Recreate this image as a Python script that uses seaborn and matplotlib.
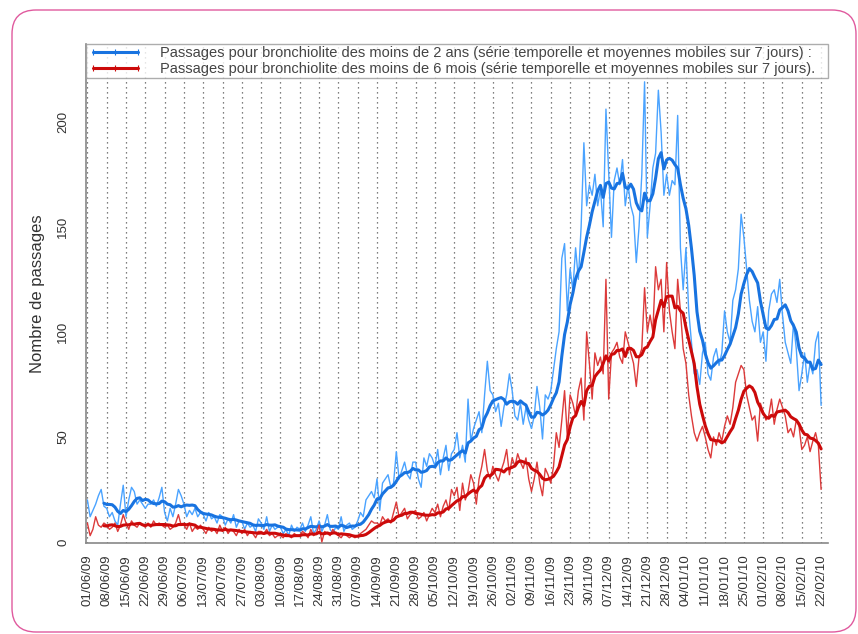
import numpy as np
import pandas as pd
import matplotlib
matplotlib.use("Agg")
import matplotlib.pyplot as plt
import seaborn as sns
from matplotlib.patches import FancyBboxPatch
from matplotlib.lines import Line2D

# ---------------- data (daily counts) ----------------
start_date = "2009-06-01"

moins_2_ans = [
    20, 12, 15, 18, 22, 25, 17,
    16, 12, 14, 10, 8, 18, 27,
    12, 20, 26, 24, 18, 20, 18,
    16, 18, 18, 20, 17, 21, 26,
    14, 10, 16, 12, 18, 25, 22,
    18, 12, 15, 13, 16, 12, 14,
    13, 10, 14, 11, 12, 9, 13,
    12, 8, 11, 9, 13, 7, 10,
    10, 6, 9, 7, 8, 5, 11,
    9, 6, 12, 5, 8, 6, 7,
    7, 4, 6, 3, 8, 5, 7,
    6, 9, 5, 8, 12, 4, 6,
    10, 5, 8, 13, 6, 4, 7,
    6, 12, 5, 8, 9, 6, 7,
    10, 14, 12, 20, 22, 24, 21,
    30, 15, 28, 30, 32, 26, 28,
    43, 30, 34, 38, 32, 30, 38,
    38, 30, 26, 40, 36, 42, 40,
    36, 44, 32, 40, 46, 34, 42,
    44, 52, 40, 46, 38, 68, 48,
    54, 58, 62, 52, 70, 86, 72,
    70, 62, 66, 55, 64, 70, 80,
    72, 60, 58, 66, 56, 64, 58,
    54, 60, 74, 64, 49, 70, 68,
    72, 82, 92, 100, 135, 142, 110,
    130, 120, 140, 125, 150, 190, 160,
    170, 165, 175, 160, 168, 150, 206,
    175, 145, 172, 178, 170, 182, 160,
    170, 160, 155, 133, 150, 175, 219,
    145, 160, 178, 185, 215, 195, 165,
    175, 165, 172, 170, 203, 140, 120,
    140, 110, 95, 80, 82, 75, 90,
    95, 80, 77, 88, 92, 84, 90,
    110, 100, 95, 115, 120, 130, 156,
    145, 130, 115, 105, 100, 112, 95,
    100, 86, 110, 118, 120, 114, 125,
    108, 95, 90, 85, 104, 92, 72,
    80, 90, 76, 85, 80, 95, 100,
    65,
]

moins_6_mois = [
    9, 3, 6, 12, 8, 7, 9,
    8, 6, 7, 9, 5, 8, 13,
    9, 6, 10, 8, 7, 9, 8,
    7, 9, 7, 10, 8, 9, 8,
    7, 8, 6, 7, 9, 13, 8,
    8, 6, 9, 5, 7, 6, 8,
    6, 4, 7, 5, 6, 4, 8,
    5, 7, 4, 6, 5, 3, 6,
    4, 6, 3, 5, 4, 2, 5,
    5, 4, 6, 3, 4, 2, 3,
    3, 2, 4, 3, 2, 4, 3,
    3, 5, 4, 2, 6, 3, 4,
    8, 0, 5, 4, 3, 6, 4,
    3, 2, 4, 3, 2, 3, 2,
    3, 4, 5, 6, 8, 10, 9,
    9, 8, 12, 10, 11, 9, 14,
    19, 12, 14, 16, 11, 13, 14,
    15, 11, 12, 14, 10, 13, 16,
    14, 18, 12, 17, 20, 15, 25,
    22, 26, 15, 28, 20, 24, 32,
    28, 18, 30, 36, 44, 34, 30,
    36, 32, 29, 34, 38, 44, 32,
    40, 36, 42, 38, 35, 40, 30,
    24, 30, 38, 28, 22, 35, 32,
    28, 36, 52, 45, 58, 72, 50,
    70, 66, 60, 72, 78, 58, 100,
    85, 68, 90, 84, 88, 80, 125,
    68, 90, 92, 95, 88, 85, 100,
    95, 90, 85, 74, 88, 92, 121,
    100, 108, 100, 131, 120, 125, 100,
    133, 110, 100, 92, 125, 110, 92,
    85, 70, 60, 52, 48, 52, 55,
    50, 44, 40, 50, 46, 52, 48,
    55, 60, 56, 64, 76, 80, 84,
    82, 70, 64, 58, 60, 48, 66,
    62, 58, 60, 68, 56, 63, 68,
    64, 60, 52, 54, 50, 58, 55,
    44, 46, 50, 43, 48, 52, 46,
    25,
]

y_ticks = [0, 50, 100, 150, 200]
legend_labels = [
    "Passages pour bronchiolite des moins de 2 ans (série temporelle et moyennes mobiles sur 7 jours) :",
    "Passages pour bronchiolite des moins de 6 mois (série temporelle et moyennes mobiles sur 7 jours).",
]
y_label = "Nombre de passages"

# ---------------- frame ----------------
n = len(moins_2_ans)
dates = pd.date_range(start_date, periods=n, freq="D")
df = pd.DataFrame({
    "jour": np.arange(n),
    "moins2": moins_2_ans,
    "moins6": moins_6_mois,
})
df["mm2"] = df["moins2"].rolling(7).mean()
df["mm6"] = df["moins6"].rolling(7).mean()

week_days = df["jour"][::7].tolist()
week_labels = [d.strftime("%d/%m/%y") for d in dates[::7]]

# ---------------- style ----------------
sns.set_style("white")
plt.rcParams["font.family"] = ["Liberation Sans", "DejaVu Sans"]

fig = plt.figure(figsize=(8.58, 6.34), dpi=100)
ax = fig.add_axes([86 / 858, 1 - 543 / 634, (828 - 86) / 858, (543 - 44) / 634])

c_blue_thin = "#4aa3ff"
c_blue = "#1873e0"
c_red_thin = "#dc3a3a"
c_red = "#cc0a0a"

# dotted vertical grid lines at each week
for d in week_days:
    ax.axvline(d, color="#555555", lw=0.9, ls=(0, (1, 3)), zorder=0)

sns.lineplot(data=df, x="jour", y="moins2", ax=ax, color=c_blue_thin, lw=1.0, zorder=2)
sns.lineplot(data=df, x="jour", y="mm2", ax=ax, color=c_blue, lw=2.2, zorder=3)
sns.lineplot(data=df, x="jour", y="moins6", ax=ax, color=c_red_thin, lw=1.0, zorder=4)
sns.lineplot(data=df, x="jour", y="mm6", ax=ax, color=c_red, lw=2.2, zorder=5)

ax.set_xlim(-0.5, 268.5)
ax.set_ylim(-0.5, 237)

ax.set_xticks(week_days)
ax.set_xticklabels(week_labels, rotation=90, fontsize=9.5, color="#333333")
ax.set_yticks(y_ticks)
ax.set_yticklabels([str(v) for v in y_ticks], rotation=90, va="center", fontsize=9.5, color="#333333")
ax.tick_params(axis="both", direction="out", length=5, width=0.9, color="#777777", pad=3)
ax.tick_params(axis="y", pad=7)
ax.set_xlabel("")
ax.set_ylabel(y_label, fontsize=12, color="#333333", labelpad=9)

for side in ["left", "bottom"]:
    ax.spines[side].set_color("#888888")
    ax.spines[side].set_linewidth(1.2)
ax.spines["top"].set_visible(False)
ax.spines["right"].set_visible(False)

handles = [
    Line2D([0], [0], color=c_blue, lw=2.2, marker="|", markersize=4, markeredgewidth=0.8),
    Line2D([0], [0], color=c_red, lw=2.2, marker="|", markersize=4, markeredgewidth=0.8),
]
leg = ax.legend(handles, legend_labels, loc="upper left", bbox_to_anchor=(0, 1, 1, 0),
                mode="expand", frameon=True, fancybox=False, fontsize=10.55,
                handlelength=3.7, handletextpad=1.2, borderaxespad=0, borderpad=0.15,
                labelspacing=0.1, numpoints=3)
leg.get_frame().set_edgecolor("#999999")
leg.get_frame().set_linewidth(1.0)
for t in leg.get_texts():
    t.set_color("#444444")

# decorative rounded pink frame around the figure
frame = FancyBboxPatch((0.12, 0.02), 8.44, 6.22, boxstyle="round,pad=0,rounding_size=0.24",
                       transform=fig.dpi_scale_trans, fill=False, edgecolor="#e05a9e", lw=1.0)
fig.patches.append(frame)

fig.savefig("out.png", dpi=100)
